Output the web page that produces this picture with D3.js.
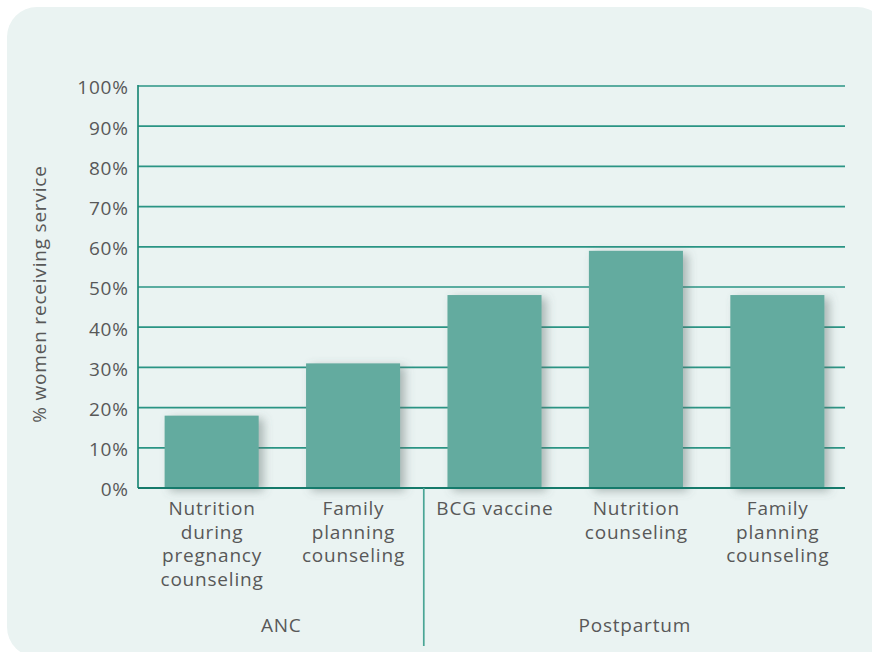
<!DOCTYPE html>
<html>
<head>
<meta charset="utf-8">
<script src="https://cdn.jsdelivr.net/npm/d3@7"></script>
<style>
  body { margin: 0; background: #ffffff; }
  svg text { font-family: "Open Sans", "Noto Sans", sans-serif; fill: #585858; letter-spacing: 0.8px; }
</style>
</head>
<body>
<div id="chart"></div>
<script>
// Data
const categories = [
  ["Nutrition", "during", "pregnancy", "counseling"],
  ["Family", "planning", "counseling"],
  ["BCG vaccine"],
  ["Nutrition", "counseling"],
  ["Family", "planning", "counseling"]
];
const values = [18, 31, 48, 59, 48];
const groups = [
  { name: "ANC", from: 0, to: 1 },
  { name: "Postpartum", from: 2, to: 4 }
];
const yTicks = [0, 10, 20, 30, 40, 50, 60, 70, 80, 90, 100];

const W = 872, H = 652;
const fontSize = 19;
const svg = d3.select("#chart").append("svg")
  .attr("width", W).attr("height", H);

// shadow for the bars
const defs = svg.append("defs");
const f = defs.append("filter").attr("id", "shadow")
  .attr("x", "-20%").attr("y", "-20%").attr("width", "150%").attr("height", "140%");
f.append("feDropShadow")
  .attr("dx", 5).attr("dy", 3).attr("stdDeviation", 5)
  .attr("flood-color", "#5a6a68").attr("flood-opacity", 0.45);

// panel
svg.append("rect")
  .attr("x", 7).attr("y", 7).attr("width", 880).attr("height", 650)
  .attr("rx", 30).attr("fill", "#eaf3f2");

const x0 = 138, x1 = 845;
const y = d3.scaleLinear().domain([0, 100]).range([488, 86]);
const x = d3.scaleBand()
  .domain(d3.range(values.length))
  .range([141, 848])
  .paddingInner(0.335)
  .paddingOuter(0.167);

// grid lines
svg.append("g")
  .selectAll("line")
  .data(yTicks.filter(d => d > 0))
  .join("line")
  .attr("x1", x0).attr("x2", x1)
  .attr("y1", d => y(d)).attr("y2", d => y(d))
  .attr("stroke", "#2a9484").attr("stroke-width", 1.7);

// y tick labels
svg.append("g")
  .selectAll("text")
  .data(yTicks)
  .join("text")
  .attr("x", 128.8)
  .attr("y", d => y(d) + 1.5)
  .attr("dy", "0.36em")
  .attr("text-anchor", "end")
  .attr("font-size", fontSize)
  .text(d => d + "%");

// bars
svg.append("g")
  .selectAll("rect")
  .data(values)
  .join("rect")
  .attr("x", (d, i) => x(i))
  .attr("width", x.bandwidth())
  .attr("y", d => y(d))
  .attr("height", d => y(0) - y(d))
  .attr("fill", "#64ab9f")
  .attr("filter", "url(#shadow)");

// axes
svg.append("line")
  .attr("x1", x0).attr("x2", x0).attr("y1", y(100) - 1).attr("y2", y(0))
  .attr("stroke", "#1f8a79").attr("stroke-width", 1.7);
svg.append("line")
  .attr("x1", x0).attr("x2", x1).attr("y1", y(0)).attr("y2", y(0))
  .attr("stroke", "#157a6b").attr("stroke-width", 1.9);

// category labels
svg.append("g")
  .selectAll("text")
  .data(categories)
  .join("text")
  .attr("text-anchor", "middle")
  .attr("font-size", fontSize)
  .attr("transform", (d, i) => `translate(${x(i) + x.bandwidth() / 2 + 0.4},515)`)
  .selectAll("tspan")
  .data(d => d)
  .join("tspan")
  .attr("x", 0)
  .attr("y", (d, i) => i * 23.5)
  .text(d => d);

// group separator
const sepX = (x(groups[0].to) + x.bandwidth() + x(groups[1].from)) / 2;
svg.append("line")
  .attr("x1", sepX).attr("x2", sepX).attr("y1", y(0)).attr("y2", 646)
  .attr("stroke", "#4aa596").attr("stroke-width", 1.7);

// group labels
svg.append("g")
  .selectAll("text")
  .data(groups)
  .join("text")
  .attr("text-anchor", "middle")
  .attr("font-size", fontSize)
  .attr("x", d => {
    const a = d.from === 0 ? x0 : sepX;
    const b = d.to === values.length - 1 ? x1 : sepX;
    return (a + b) / 2 + 0.4;
  })
  .attr("y", 632)
  .text(d => d.name);

// y axis title
svg.append("text")
  .attr("transform", `translate(46,${(y(0) + y(100)) / 2 + 7}) rotate(-90)`)
  .attr("text-anchor", "middle")
  .attr("font-size", fontSize)
  .text("% women receiving service");
</script>
</body>
</html>
